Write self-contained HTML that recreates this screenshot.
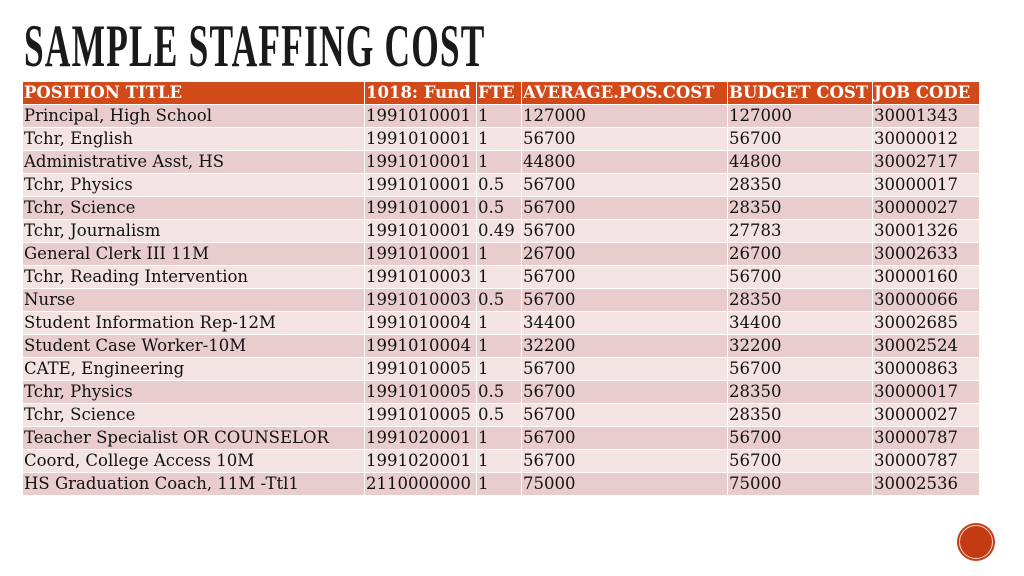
<!DOCTYPE html>
<html><head><meta charset="utf-8"><style>
body{margin:0;width:1024px;height:576px;background:#fff;position:relative;overflow:hidden;font-family:"DejaVu Serif","Liberation Serif",serif;}
#title{position:absolute;left:24px;top:16px;font-family:"Liberation Serif",serif;font-weight:bold;font-size:60px;line-height:60px;color:#1a1a1a;transform:scaleX(0.59);transform-origin:left top;letter-spacing:2px;white-space:nowrap;}
table{position:absolute;left:22px;top:81px;border-collapse:collapse;font-size:16.5px;color:#111;}
td,th{padding:0 0 0 1px;height:22px;line-height:22px;border:1px solid #fff;text-align:left;white-space:nowrap;overflow:hidden;}
th{background:#d2491a;color:#fff;font-weight:bold;}
tr:nth-child(even) td{background:#e9cdce;}
tr:nth-child(odd) td{background:#f4e3e3;}
#dot{position:absolute;left:957px;top:523px;width:38px;height:38px;border-radius:50%;background:#c33b12;}
#dot::after{content:"";position:absolute;left:2px;top:2px;right:2px;bottom:2px;border:1px solid #f6d6c9;border-radius:50%;}
</style></head><body>
<div id="title">SAMPLE STAFFING COST</div>
<table>
<colgroup><col style="width:342px"><col style="width:112px"><col style="width:45px"><col style="width:206px"><col style="width:145px"><col style="width:107px"></colgroup>
<tr><th>POSITION TITLE</th><th>1018: Fund</th><th>FTE</th><th>AVERAGE.POS.COST</th><th>BUDGET COST</th><th>JOB CODE</th></tr>
<tr><td>Principal, High School</td><td>1991010001</td><td>1</td><td>127000</td><td>127000</td><td>30001343</td></tr>
<tr><td>Tchr, English</td><td>1991010001</td><td>1</td><td>56700</td><td>56700</td><td>30000012</td></tr>
<tr><td>Administrative Asst, HS</td><td>1991010001</td><td>1</td><td>44800</td><td>44800</td><td>30002717</td></tr>
<tr><td>Tchr, Physics</td><td>1991010001</td><td>0.5</td><td>56700</td><td>28350</td><td>30000017</td></tr>
<tr><td>Tchr, Science</td><td>1991010001</td><td>0.5</td><td>56700</td><td>28350</td><td>30000027</td></tr>
<tr><td>Tchr, Journalism</td><td>1991010001</td><td>0.49</td><td>56700</td><td>27783</td><td>30001326</td></tr>
<tr><td>General Clerk III 11M</td><td>1991010001</td><td>1</td><td>26700</td><td>26700</td><td>30002633</td></tr>
<tr><td>Tchr, Reading Intervention</td><td>1991010003</td><td>1</td><td>56700</td><td>56700</td><td>30000160</td></tr>
<tr><td>Nurse</td><td>1991010003</td><td>0.5</td><td>56700</td><td>28350</td><td>30000066</td></tr>
<tr><td>Student Information Rep-12M</td><td>1991010004</td><td>1</td><td>34400</td><td>34400</td><td>30002685</td></tr>
<tr><td>Student Case Worker-10M</td><td>1991010004</td><td>1</td><td>32200</td><td>32200</td><td>30002524</td></tr>
<tr><td>CATE, Engineering</td><td>1991010005</td><td>1</td><td>56700</td><td>56700</td><td>30000863</td></tr>
<tr><td>Tchr, Physics</td><td>1991010005</td><td>0.5</td><td>56700</td><td>28350</td><td>30000017</td></tr>
<tr><td>Tchr, Science</td><td>1991010005</td><td>0.5</td><td>56700</td><td>28350</td><td>30000027</td></tr>
<tr><td>Teacher Specialist OR COUNSELOR</td><td>1991020001</td><td>1</td><td>56700</td><td>56700</td><td>30000787</td></tr>
<tr><td>Coord, College Access 10M</td><td>1991020001</td><td>1</td><td>56700</td><td>56700</td><td>30000787</td></tr>
<tr><td>HS Graduation Coach, 11M -Ttl1</td><td>2110000000</td><td>1</td><td>75000</td><td>75000</td><td>30002536</td></tr>
</table>
<div id="dot"></div>
</body></html>
